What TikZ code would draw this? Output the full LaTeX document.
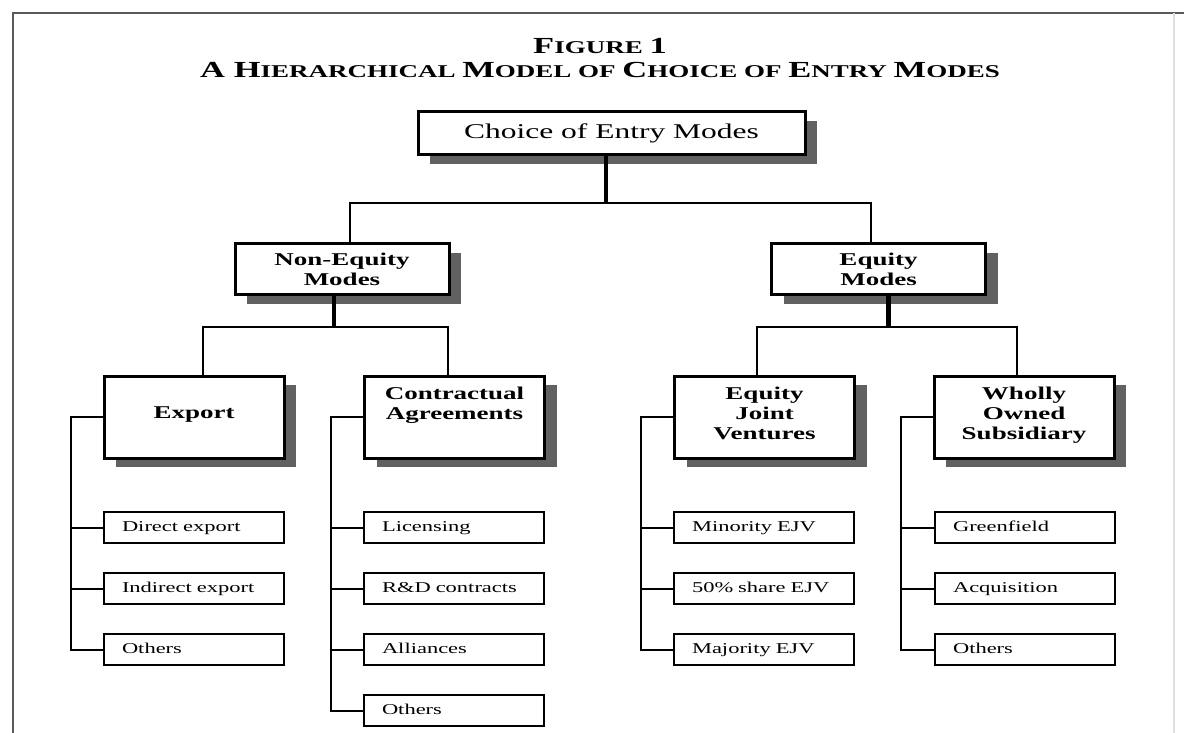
\documentclass[tikz,border=0pt]{standalone}
\usepackage{fontspec}
\setmainfont[FakeStretch=1.5]{Liberation Serif}
\usetikzlibrary{shadows}
\definecolor{shadowgray}{gray}{0.38}
\definecolor{framegray}{gray}{0.35}
\newcommand{\titbig}{\fontsize{11.5}{14}\selectfont}
\newcommand{\titsmall}{\fontsize{9}{14}\selectfont}
\tikzset{shadowed/.style={drop shadow={shadow xshift=6pt,shadow yshift=-4.5pt,fill=shadowgray,opacity=1}}}
\tikzset{rootbox/.style={draw,line width=1.5pt,fill=white,shadowed,minimum width=193.5pt,minimum height=21.5pt,inner sep=0pt,font=\fontsize{10.5}{12}\selectfont}}
\tikzset{modebox/.style={draw,line width=1.5pt,fill=white,shadowed,minimum width=107pt,minimum height=25.5pt,inner sep=0pt,align=center,font=\bfseries\fontsize{9}{10}\selectfont}}
\tikzset{headbox/.style={modebox,minimum width=90pt,minimum height=41pt,text depth=4pt}}
\tikzset{subbox/.style={draw,line width=1pt,minimum height=15.5pt,text width=72pt,text height=5.5pt,text depth=1.5pt,inner xsep=9pt,inner ysep=0pt,align=left,font=\fontsize{7.5}{9}\selectfont}}
\tikzset{conn/.style={line width=1pt}}
\tikzset{stem/.style={line width=2.2pt}}

\begin{document}
\begin{tikzpicture}[x=0.5pt,y=-0.5pt]
    \useasboundingbox (0,0) rectangle (1184,733);
    % draw the frame
    \draw[framegray,line width=1pt] (13,733) -- (13,13) -- (1184,13);
    \draw[gray!25,line width=0.8pt] (1174,13) -- (1174,733);
    % title
    \node (figno) at (600,46) {\bfseries\titbig F\titsmall IGURE \titbig 1};
    \node (title) at (600,70) {\bfseries\titbig A H\titsmall IERARCHICAL \titbig M\titsmall ODEL OF \titbig C\titsmall HOICE OF \titbig E\titsmall NTRY \titbig M\titsmall ODES};
    % draw the boxes
    \node[rootbox] (root) at (611.5,133.5) {Choice of Entry Modes};
    \node[modebox] (noneq) at (342,269) {Non-Equity\\Modes};
    \node[modebox] (equity) at (878.5,269) {Equity\\Modes};
    \node[headbox] (export) at (194,417) {Export};
    \node[headbox] (contract) at (454.5,417) {Contractual\\Agreements\\\mbox{}};
    \node[headbox] (ejv) at (764.5,417) {Equity\\Joint\\Ventures};
    \node[headbox] (wos) at (1024,417) {Wholly\\Owned\\Subsidiary};
    % the sub-modes
    \foreach \name/\txt [count=\i] in {dexp/Direct export,iexp/Indirect export,oexp/Others}
        \node[subbox] (\name) at (194,{527.5+61*(\i-1)}) {\txt};
    \foreach \name/\txt [count=\i] in {lic/Licensing,rnd/R\&D contracts,all/Alliances,ocon/Others}
        \node[subbox] (\name) at (454,{527.5+61*(\i-1)}) {\txt};
    \foreach \name/\txt [count=\i] in {minejv/Minority EJV,halfejv/50\% share EJV,majejv/Majority EJV}
        \node[subbox] (\name) at (764,{527.5+61*(\i-1)}) {\txt};
    \foreach \name/\txt [count=\i] in {green/Greenfield,acq/Acquisition,owos/Others}
        \node[subbox] (\name) at (1025,{527.5+61*(\i-1)}) {\txt};
    % draw the tree lines
    \coordinate (rootbus) at (606,203);
    \draw[stem] (root.south -| rootbus) -- (rootbus);
    \draw[conn] ([xshift=4pt]noneq.north) |- (rootbus) -| ([xshift=-4pt]equity.north);
    \draw[stem] ([xshift=-4pt]noneq.south) -- ++(0,31) coordinate (nebus);
    \draw[conn] ([xshift=4.5pt]export.north) |- (nebus) -| ([xshift=-3.5pt]contract.north);
    \draw[stem] ([xshift=5pt]equity.south) -- ++(0,31) coordinate (eqbus);
    \draw[conn] ([xshift=-4pt]ejv.north) |- (eqbus) -| ([xshift=-3.5pt]wos.north);
    % the brackets to the sub-modes
    \draw[conn] (export.west) -- ++(-32,0) coordinate (exbus) |- (oexp.west);
    \foreach \name in {dexp,iexp} \draw[conn] (exbus |- \name.west) -- (\name.west);
    \draw[conn] (contract.west) -- ++(-32,0) coordinate (cobus) |- (ocon.west);
    \foreach \name in {lic,rnd,all} \draw[conn] (cobus |- \name.west) -- (\name.west);
    \draw[conn] (ejv.west) -- ++(-32,0) coordinate (ejbus) |- (majejv.west);
    \foreach \name in {minejv,halfejv} \draw[conn] (ejbus |- \name.west) -- (\name.west);
    \draw[conn] (wos.west) -- ++(-32,0) coordinate (wobus) |- (owos.west);
    \foreach \name in {green,acq} \draw[conn] (wobus |- \name.west) -- (\name.west);
\end{tikzpicture}
\end{document}
